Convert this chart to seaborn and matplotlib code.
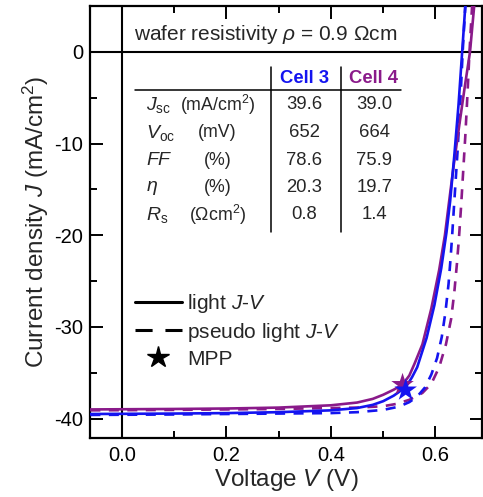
import numpy as np
import pandas as pd
import matplotlib
matplotlib.use("Agg")
import matplotlib.pyplot as plt
from matplotlib.lines import Line2D
import seaborn as sns

# ---- measured J-V curves (V in volts, J in mA/cm^2) ----
v_cell3_light = [-0.06, 0.10, 0.20, 0.30, 0.40, 0.45, 0.48, 0.50, 0.52, 0.535, 0.545, 0.555, 0.565,
                 0.583, 0.598, 0.611, 0.621, 0.628, 0.636, 0.644, 0.651, 0.657]
j_cell3_light = [-39.5, -39.45, -39.4, -39.3, -39.1, -38.85, -38.5, -38.1, -37.5, -36.9, -36.4, -35.5, -34.4,
                 -31.2, -27.6, -23.6, -19.7, -16.3, -11.3, -5.8, 0.0, 5.0]

v_cell4_light = [-0.06, 0.10, 0.20, 0.30, 0.40, 0.45, 0.48, 0.50, 0.52, 0.537, 0.55, 0.56,
                 0.575, 0.592, 0.607, 0.618, 0.625, 0.635, 0.645, 0.655, 0.666, 0.674]
j_cell4_light = [-39.0, -38.95, -38.9, -38.8, -38.55, -38.25, -37.85, -37.4, -36.85, -36.3, -35.3, -34.0,
                 -31.9, -28.0, -23.8, -20.0, -16.8, -12.3, -8.2, -4.2, 0.0, 5.0]

v_cell3_pseudo = [-0.06, 0.10, 0.20, 0.30, 0.40, 0.45, 0.50, 0.53, 0.55, 0.565, 0.58, 0.592,
                  0.603, 0.612, 0.619, 0.625, 0.629, 0.632, 0.636, 0.642, 0.647, 0.652, 0.657]
j_cell3_pseudo = [-39.6, -39.55, -39.5, -39.45, -39.4, -39.3, -39.05, -38.7, -38.2, -37.6, -36.6, -35.2,
                  -33.4, -31.1, -28.4, -25.3, -22.4, -19.9, -16.3, -11.0, -6.0, 0.0, 5.0]

v_cell4_pseudo = [-0.06, 0.10, 0.20, 0.30, 0.40, 0.45, 0.50, 0.525, 0.55, 0.575, 0.592, 0.607,
                  0.62, 0.63, 0.636, 0.641, 0.645, 0.649, 0.653, 0.657, 0.661, 0.665, 0.670]
j_cell4_pseudo = [-39.1, -39.05, -39.0, -38.95, -38.85, -38.8, -38.65, -38.4, -37.95, -37.2, -36.2, -34.4,
                  -31.9, -29.1, -26.2, -23.1, -20.2, -16.8, -13.0, -9.2, -4.8, 0.0, 5.0]

# maximum power points (Cell 4 first so Cell 3 sits on top)
mpp_cell = ["Cell 4", "Cell 3"]
mpp_v = [0.537, 0.543]
mpp_j = [-36.3, -36.9]

# ---- cell parameter table ----
cells = ["Cell 3", "Cell 4"]
param_labels = [r"$J_{\rm sc}$", r"$V_{\rm oc}$", r"$FF$", r"$\eta$", r"$R_{\rm s}$"]
param_units = [r"(mA/cm$^2$)", "(mV)", "(%)", "(%)", r"($\Omega$cm$^2$)"]
cell3_values = ["39.6", "652", "78.6", "20.3", "0.8"]
cell4_values = ["39.0", "664", "75.9", "19.7", "1.4"]

BLUE = "#1414f0"
PURPLE = "#8a1a8a"

sns.set_style("ticks")
plt.rcParams["font.family"] = ["Liberation Sans", "DejaVu Sans"]
plt.rcParams["mathtext.fontset"] = "custom"
plt.rcParams["mathtext.rm"] = "Liberation Sans"
plt.rcParams["mathtext.it"] = "Liberation Sans:italic"
plt.rcParams["mathtext.bf"] = "Liberation Sans:bold"
plt.rcParams["axes.unicode_minus"] = False

fig = plt.figure(figsize=(4.83, 4.97), dpi=100)
ax = fig.add_axes([0.186, 0.119, 0.812, 0.869])

LW = 1.9
DASH = (0, (3.8, 3.2))

# reference axes at V = 0 and J = 0
ax.axhline(0, color="black", lw=1.5, zorder=1)
ax.axvline(0, color="black", lw=1.5, zorder=1)

curves = [
    (v_cell4_pseudo, j_cell4_pseudo, PURPLE, DASH),
    (v_cell3_pseudo, j_cell3_pseudo, BLUE, DASH),
    (v_cell4_light, j_cell4_light, PURPLE, "-"),
    (v_cell3_light, j_cell3_light, BLUE, "-"),
]
for v, j, c, ls in curves:
    df = pd.DataFrame({"V": v, "J": j})
    sns.lineplot(data=df, x="V", y="J", sort=False, estimator=None, color=c,
                 linestyle=ls, lw=LW, ax=ax, zorder=3)

mpp = pd.DataFrame({"V": mpp_v, "J": mpp_j, "cell": mpp_cell})
sns.scatterplot(data=mpp, x="V", y="J", hue="cell", palette={"Cell 3": BLUE, "Cell 4": PURPLE},
                marker="*", s=290, edgecolor="none", legend=False, ax=ax, zorder=4)

ax.set_xlim(-0.061, 0.689)
ax.set_ylim(-42.1, 5.0)
ax.set_xticks([0.0, 0.2, 0.4, 0.6])
ax.set_xticks([0.1, 0.3, 0.5], minor=True)
ax.set_yticks([-40, -30, -20, -10, 0])
ax.set_yticks([-35, -25, -15, -5], minor=True)
ax.set_xticklabels(["0.0", "0.2", "0.4", "0.6"])
ax.tick_params(which="both", direction="in", top=True, right=True, width=1.4,
               labelsize=14.5, colors="black")
ax.tick_params(which="major", length=9)
ax.tick_params(which="minor", length=5)
ax.tick_params(axis="x", pad=6)
ax.tick_params(axis="y", pad=5)
for s in ax.spines.values():
    s.set_linewidth(1.6)
    s.set_color("black")

ax.set_xlabel(r"Voltage $V$ (V)", fontsize=17.5, labelpad=1)
ax.set_ylabel(r"Current density $J$ (mA/cm$^2$)", fontsize=17.5, labelpad=2)

# ---- annotations (positions in axes pixels) ----
AX_L, AX_R, AX_T, AX_B = 90.0, 483.0, 6.0, 438.0

def fx(px):
    return (px - AX_L) / (AX_R - AX_L)

def fy(py):
    return (AX_B - py) / (AX_B - AX_T)

tr = ax.transAxes
ax.text(fx(134), fy(35), r"wafer resistivity $\rho$ = 0.9 $\Omega$cm", transform=tr,
        fontsize=15, ha="left", va="center")

TFS = 13.3
ax.text(fx(305), fy(79), "Cell 3", transform=tr, fontsize=TFS, fontweight="bold",
        color=BLUE, ha="center", va="center")
ax.text(fx(374), fy(79), "Cell 4", transform=tr, fontsize=TFS, fontweight="bold",
        color=PURPLE, ha="center", va="center")
ax.plot([fx(135), fx(402)], [fy(90), fy(90)], transform=tr, color="black", lw=1.1)
for xs in (272, 342):
    ax.plot([fx(xs), fx(xs)], [fy(67), fy(232)], transform=tr, color="black", lw=1.1)

row_y = [105, 133, 161, 188, 215]
for yy, lab, unit, a, b in zip(row_y, param_labels, param_units, cell3_values, cell4_values):
    ax.text(fx(146), fy(yy), lab, transform=tr, fontsize=14, ha="left", va="center")
    ax.text(fx(218), fy(yy), unit, transform=tr, fontsize=12.8, ha="center", va="center")
    ax.text(fx(305), fy(yy), a, transform=tr, fontsize=TFS, ha="center", va="center")
    ax.text(fx(375), fy(yy), b, transform=tr, fontsize=TFS, ha="center", va="center")

handles = [
    Line2D([], [], color="black", lw=2.2, linestyle="-"),
    Line2D([], [], color="black", lw=2.2, linestyle=(0, (5.6, 4.2))),
    Line2D([], [], color="black", lw=0, marker="*", markersize=16),
]
labels = [r"light $J$-$V$", r"pseudo light $J$-$V$", "MPP"]
ax.legend(handles, labels, loc="upper left", bbox_to_anchor=(fx(135), fy(292)),
          frameon=False, fontsize=15, handlelength=2.26, handletextpad=0.25,
          labelspacing=0.28, borderaxespad=0, borderpad=0)

fig.savefig("out.png", dpi=100)
